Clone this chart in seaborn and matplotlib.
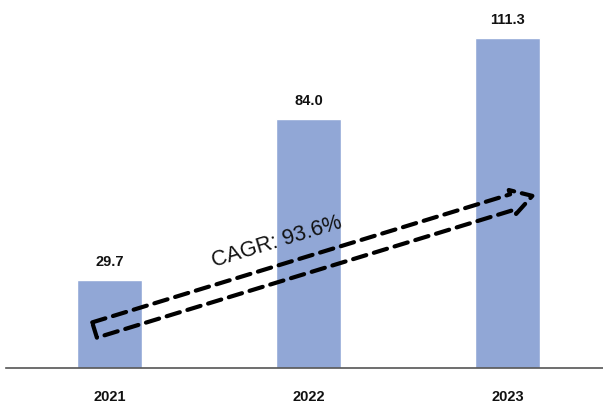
import matplotlib
matplotlib.use("Agg")
import matplotlib.pyplot as plt
from matplotlib.patches import FancyArrowPatch
import seaborn as sns

# data
years = ["2021", "2022", "2023"]
values = [29.7, 84.0, 111.3]
cagr_label = "CAGR: 93.6%"

bar_color = "#91a7d6"

sns.set_theme(style="white")
plt.rcParams["font.family"] = ["Liberation Sans", "DejaVu Sans"]

fig = plt.figure(figsize=(6.03, 4.08), dpi=100)
ax = fig.add_axes([6 / 603, 40 / 408, 1 - 6 / 603, 368 / 408])

sns.barplot(x=years, y=values, color=bar_color, saturation=1, width=0.33, ax=ax)

ax.bar_label(ax.containers[0], fmt="%.1f", padding=8, fontsize=10.5,
             fontweight="bold", color="#111111")

ax.set_xlim(-0.52, 2.48)
ax.set_ylim(0, 124)
ax.set_xlabel("")
ax.set_ylabel("")
ax.set_yticks([])
ax.tick_params(axis="x", length=0, pad=16, labelsize=10.5)
for lbl in ax.get_xticklabels():
    lbl.set_fontweight("bold")
    lbl.set_color("#111111")

for side in ["top", "right", "left"]:
    ax.spines[side].set_visible(False)
ax.spines["bottom"].set_color("#555555")
ax.spines["bottom"].set_linewidth(1.2)

# dashed hollow growth arrow
arrow = FancyArrowPatch((-0.075, 12.8), (2.125, 58.0),
                        arrowstyle="simple,head_length=15,head_width=18,tail_width=11.5",
                        mutation_scale=1, shrinkA=0, shrinkB=0,
                        fill=False, edgecolor="black", linewidth=3,
                        linestyle=(0, (3.3, 1.9)), zorder=5)
ax.add_patch(arrow)

ax.text(0.84, 42.4, cagr_label, rotation=17, ha="center", va="center",
        fontsize=15.5, color="#111111", rotation_mode="anchor")

fig.savefig("out.png", dpi=100)
